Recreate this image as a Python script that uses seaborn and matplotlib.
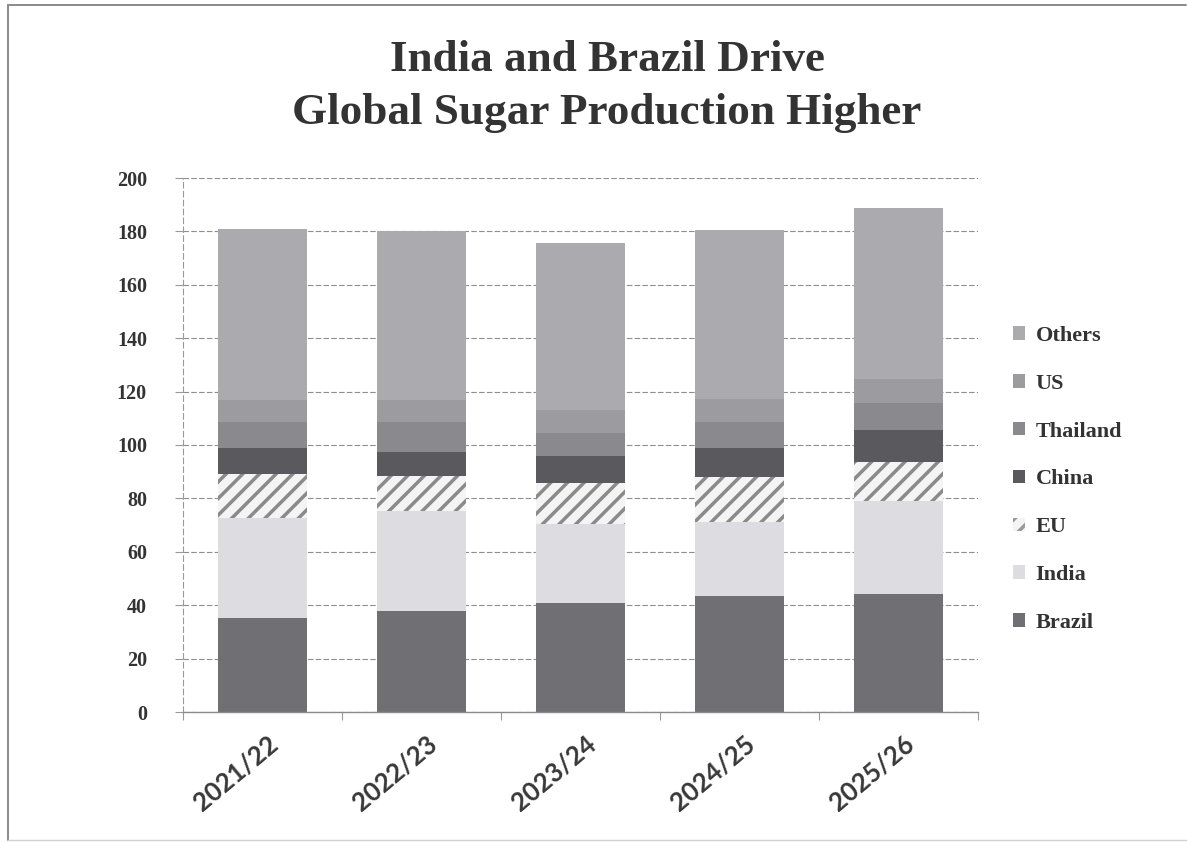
import matplotlib
matplotlib.use("Agg")
import matplotlib.pyplot as plt
import matplotlib.transforms as mtransforms
from matplotlib.patches import Patch
from matplotlib.lines import Line2D
import seaborn as sns
import pandas as pd
import numpy as np

# Global sugar production by producer (million tonnes, raw value)
seasons = ["2021/22", "2022/23", "2023/24", "2024/25", "2025/26"]
brazil = [35.3, 37.8, 40.7, 43.6, 44.1]
india = [37.4, 37.5, 29.6, 27.7, 34.9]
eu = [16.5, 13.2, 15.6, 16.6, 14.7]
china = [9.7, 9.0, 10.1, 10.9, 12.1]
thailand = [9.7, 11.2, 8.6, 9.9, 10.0]
us = [8.2, 8.2, 8.5, 8.7, 9.1]
others = [64.0, 63.4, 62.7, 63.1, 64.0]

series_names = ["Brazil", "India", "EU", "China", "Thailand", "US", "Others"]
series_values = [brazil, india, eu, china, thailand, us, others]
y_ticks = list(range(0, 201, 20))

# stack styling, bottom to top
face = {
    "Brazil": "#707074",
    "India": "#dcdce1",
    "EU": "#f4f4f4",
    "China": "#5a5a5e",
    "Thailand": "#8a8a8e",
    "US": "#9c9ca0",
    "Others": "#aaaaaf",
}
hatch = {"EU": "//"}

sns.set_theme(style="white")
plt.rcParams["hatch.linewidth"] = 2.5
serif = ["Liberation Serif", "DejaVu Serif"]

fig = plt.figure(figsize=(11.88, 8.43), dpi=100)
ax = fig.add_axes([183 / 1188, 1 - 712 / 843, (978 - 183) / 1188, (712 - 178) / 843])

df = pd.DataFrame({"season": seasons})
cum = np.zeros(len(seasons))
tops = []
for name, vals in zip(series_names, series_values):
    cum = cum + np.array(vals)
    tops.append(cum.copy())

# draw cumulative totals from the top down so each layer covers the one above it
for name, top in reversed(list(zip(series_names, tops))):
    d = df.assign(value=top)
    sns.barplot(
        data=d, x="season", y="value", order=seasons, ax=ax,
        color=face[name], width=0.555, saturation=1,
        linewidth=0, errorbar=None, zorder=2,
    )
    if name in hatch:
        for p in ax.patches[-len(seasons):]:
            p.set_hatch(hatch[name])
            p.set_edgecolor("#8a8a8a")
            p.set_linewidth(0)

ax.set_xlim(-0.5, len(seasons) - 0.5)
ax.set_ylim(0, 200)
ax.set_xlabel("")
ax.set_ylabel("")

# y axis
ax.set_yticks(y_ticks)
ax.set_yticklabels([str(v) for v in y_ticks], fontfamily=serif,
                   fontweight="bold", fontsize=14.5, color="#333333")
ax.tick_params(axis="y", which="major", length=6, width=0.8, color="#999999",
               direction="out", left=True, pad=20)
ax.grid(axis="y", color="#8f8f8f", linestyle=(0, (5, 2)), linewidth=0.8, zorder=0)
ax.set_axisbelow(True)

# x axis: boundary ticks, labels at bar centers
ax.set_xticks(range(len(seasons)))
ax.set_xticks(np.arange(-0.5, len(seasons), 1.0), minor=True)
ax.tick_params(axis="x", which="major", length=0, pad=14)
ax.tick_params(axis="x", which="minor", length=6, width=0.8, color="#999999",
               direction="out", bottom=True)
offset = mtransforms.ScaledTranslation(5 / 100, 0, fig.dpi_scale_trans)
ax.set_xticklabels(seasons, rotation=40, ha="right", va="top",
                   rotation_mode="anchor",
                   fontfamily=["Lato", "DejaVu Sans"], fontweight="bold",
                   fontsize=18.5, color="#383838")
for lbl in ax.get_xticklabels():
    lbl.set_transform(lbl.get_transform() + offset)

for side in ("top", "right"):
    ax.spines[side].set_visible(False)
ax.spines["left"].set_color("#9a9a9a")
ax.spines["left"].set_linestyle((0, (5, 3)))
ax.spines["left"].set_linewidth(0.8)
ax.spines["bottom"].set_color("#8a8a8a")
ax.spines["bottom"].set_linewidth(1.0)

# title
fig.text(0.511, 1 - 60 / 843, "India and Brazil Drive", ha="center", va="center",
         fontfamily=serif, fontweight="bold", fontsize=32.5, color="#333333")
fig.text(0.511, 1 - 113 / 843, "Global Sugar Production Higher", ha="center",
         va="center", fontfamily=serif, fontweight="bold", fontsize=32.5,
         color="#333333")

# legend, top entry is the top of the stack
handles = []
for name in reversed(series_names):
    handles.append(Patch(facecolor=face[name],
                         edgecolor="#9a9a9a" if name in hatch else face[name],
                         hatch=hatch.get(name), linewidth=0))
fig.legend(handles, list(reversed(series_names)), loc="upper left",
           bbox_to_anchor=(0.836, 0.637), frameon=False,
           prop={"family": serif, "weight": "bold", "size": 16},
           labelcolor="#333333", handlelength=0.55, handleheight=0.55,
           handletextpad=0.45, labelspacing=1.25)

# page frame
frame_kw = dict(color="#8a8a8a", linewidth=1.4, transform=fig.transFigure)
fig.add_artist(Line2D([8 / 1188, 8 / 1188], [1 - 5 / 843, 1 - 840 / 843], **frame_kw))
fig.add_artist(Line2D([8 / 1188, 1186 / 1188], [1 - 5 / 843, 1 - 5 / 843], **frame_kw))
fig.add_artist(Line2D([8 / 1188, 1186 / 1188], [1 - 840 / 843, 1 - 840 / 843],
                      color="#d0d0d0", linewidth=1.0, transform=fig.transFigure))

fig.savefig("out.png", dpi=100, facecolor="white")
